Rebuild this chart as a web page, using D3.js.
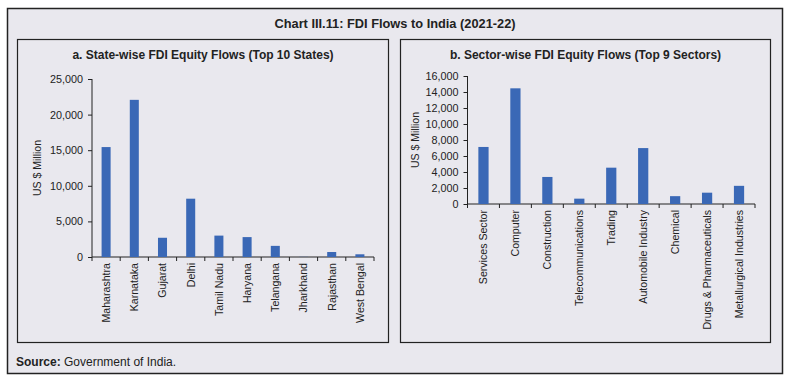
<!DOCTYPE html>
<html>
<head>
<meta charset="utf-8">
<script src="https://cdn.jsdelivr.net/npm/d3@7"></script>
<style>
  body { margin: 0; background: #fff; }
  svg { display: block; font-family: "Liberation Sans", Arial, sans-serif; }
  .axis text { font-size: 10.8px; fill: #222; }
  .axis text.cat { font-size: 10.6px; }
  .axis path, .axis line { stroke: #222; }
</style>
</head>
<body>
<svg id="chart"></svg>
<script>
// State-wise FDI equity flows, US $ million
const states = ["Maharashtra", "Karnataka", "Gujarat", "Delhi", "Tamil Nadu",
  "Haryana", "Telangana", "Jharkhand", "Rajasthan", "West Bengal"];
const stateValues = [15440, 22072, 2701, 8189, 3005, 2795, 1563, 20, 700, 380];
const stateTicks = [0, 5000, 10000, 15000, 20000, 25000];

// Sector-wise FDI equity flows, US $ million
const sectors = ["Services Sector", "Computer", "Construction", "Telecommunications",
  "Trading", "Automobile Industry", "Chemical", "Drugs & Pharmaceuticals",
  "Metallurgical Industries"];
const sectorValues = [7130, 14460, 3380, 668, 4540, 6990, 980, 1414, 2270];
const sectorTicks = [0, 2000, 4000, 6000, 8000, 10000, 12000, 14000, 16000];

const width = 790, height = 383;
const bg = "#e9e8ee", barColor = "#3a68b6", ink = "#222";

const svg = d3.select("#chart").attr("width", width).attr("height", height);

// outer frame
svg.append("rect")
  .attr("x", 7.5).attr("y", 8.5).attr("width", 775).attr("height", 365)
  .attr("fill", bg).attr("stroke", ink).attr("stroke-width", 1.5);

svg.append("text")
  .attr("x", 395).attr("y", 28)
  .attr("text-anchor", "middle")
  .attr("font-size", 12.8).attr("font-weight", "bold").attr("fill", ink)
  .text("Chart III.11: FDI Flows to India (2021-22)");

const source = svg.append("text")
  .attr("x", 16).attr("y", 366)
  .attr("font-size", 12).attr("fill", ink);
source.append("tspan").attr("font-weight", "bold").text("Source:");
source.append("tspan").text(" Government of India.");

function panel(opts) {
  const g = svg.append("g");

  // panel box
  g.append("rect")
    .attr("x", opts.box[0]).attr("y", opts.box[1])
    .attr("width", opts.box[2]).attr("height", opts.box[3])
    .attr("fill", "none").attr("stroke", ink).attr("stroke-width", 1.2);

  g.append("text")
    .attr("x", opts.box[0] + opts.box[2] / 2).attr("y", opts.box[1] + 19)
    .attr("text-anchor", "middle")
    .attr("font-size", 12).attr("font-weight", "bold").attr("fill", ink)
    .text(opts.title);

  const x = d3.scaleBand()
    .domain(opts.categories)
    .range([opts.x0, opts.x1])
    .paddingInner(0.68).paddingOuter(0.34);

  const y = d3.scaleLinear()
    .domain([0, d3.max(opts.ticks)])
    .range([opts.y0, opts.y1]);

  // y axis
  const yAxis = g.append("g")
    .attr("class", "axis")
    .attr("transform", `translate(${opts.x0},0)`)
    .call(d3.axisLeft(y).tickValues(opts.ticks).tickSize(4).tickPadding(5)
      .tickFormat(d3.format(",")));
  yAxis.select(".domain").attr("d", `M0,${opts.y0}V${opts.y1}`);

  // x axis with ticks at category boundaries
  const xa = g.append("g").attr("class", "axis");
  xa.append("line")
    .attr("x1", opts.x0).attr("x2", opts.x1)
    .attr("y1", opts.y0).attr("y2", opts.y0)
    .attr("stroke", ink);
  const step = x.step();
  const bounds = d3.range(opts.categories.length + 1).map(i => opts.x0 + i * step);
  xa.selectAll("line.tick")
    .data(bounds)
    .join("line")
    .attr("class", "tick")
    .attr("x1", d => d).attr("x2", d => d)
    .attr("y1", opts.y0).attr("y2", opts.y0 + 4)
    .attr("stroke", ink);

  xa.selectAll("text.cat")
    .data(opts.categories)
    .join("text")
    .attr("class", "cat")
    .attr("transform", d => `translate(${x(d) + x.bandwidth() / 2 + 3.8},${opts.y0 + 6}) rotate(-90)`)
    .attr("text-anchor", "end")
    .text(d => d);

  // bars
  g.selectAll("rect.bar")
    .data(opts.values)
    .join("rect")
    .attr("class", "bar")
    .attr("x", (d, i) => x(opts.categories[i]))
    .attr("width", x.bandwidth())
    .attr("y", d => y(d))
    .attr("height", d => opts.y0 - y(d))
    .attr("fill", barColor);

  // y label
  g.append("text")
    .attr("transform", `translate(${opts.labelX},${(opts.y0 + opts.y1) / 2}) rotate(-90)`)
    .attr("text-anchor", "middle")
    .attr("font-size", 10.5).attr("fill", ink)
    .text("US $ Million");
}

panel({
  box: [17.5, 39.5, 371, 303],
  title: "a. State-wise FDI Equity Flows (Top 10 States)",
  categories: states, values: stateValues, ticks: stateTicks,
  x0: 92, x1: 374, y0: 257, y1: 79, labelX: 41
});

panel({
  box: [400.5, 39.5, 370, 303],
  title: "b. Sector-wise FDI Equity Flows (Top 9 Sectors)",
  categories: sectors, values: sectorValues, ticks: sectorTicks,
  x0: 467.5, x1: 755, y0: 204, y1: 76, labelX: 419
});
</script>
</body>
</html>
